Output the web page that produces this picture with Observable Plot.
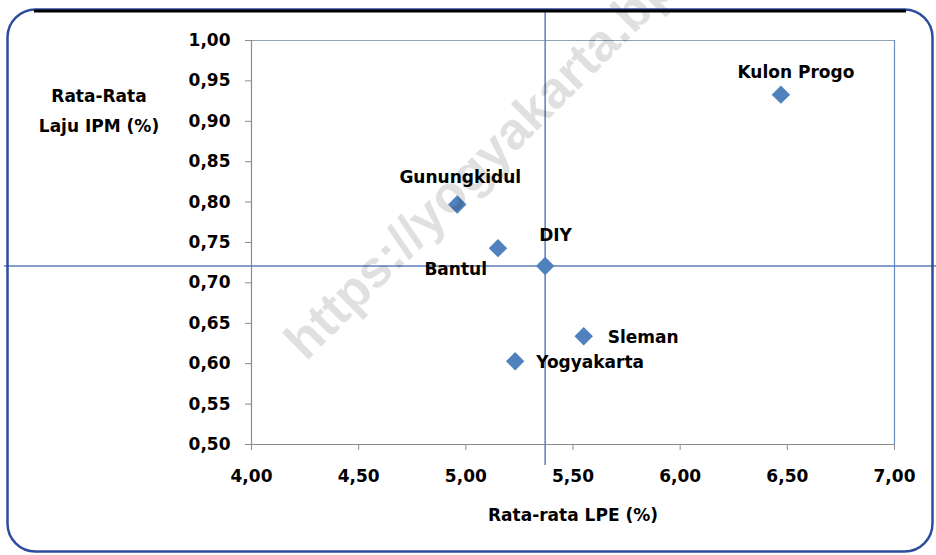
<!DOCTYPE html>
<html>
<head>
<meta charset="utf-8">
<script src="https://cdn.jsdelivr.net/npm/d3@7"></script>
<script src="https://cdn.jsdelivr.net/npm/@observablehq/plot@0.6"></script>
<style>
  html, body { margin: 0; padding: 0; background: #fff; }
  #chart { width: 936px; height: 555px; }
</style>
</head>
<body>
<div id="chart"></div>
<script>
// ---- data ----
const regions = ["Kulon Progo", "Gunungkidul", "Bantul", "DIY", "Sleman", "Yogyakarta"];
const lpe     = [6.47, 4.96, 5.15, 5.37, 5.55, 5.23];      // Rata-rata LPE (%)
const ipm     = [0.933, 0.797, 0.743, 0.721, 0.634, 0.603]; // Rata-rata Laju IPM (%)
const xTicks  = [4.00, 4.50, 5.00, 5.50, 6.00, 6.50, 7.00];
const yTicks  = [0.50, 0.55, 0.60, 0.65, 0.70, 0.75, 0.80, 0.85, 0.90, 0.95, 1.00];
const xTitle  = "Rata-rata LPE (%)";
const yTitle  = ["Rata-Rata", "Laju IPM (%)"];
const watermark = "https://yogyakarta.bps.go.id";
const reference = "DIY";

// label placement (style only)
const labelPlacement = {
  "Kulon Progo": {dx: 15,  dy: -22, anchor: "middle"},
  "Gunungkidul": {dx: 3,   dy: -27, anchor: "middle"},
  "Bantul":      {dx: -11, dy: 21,  anchor: "end"},
  "DIY":         {dx: -6,  dy: -30, anchor: "start"},
  "Sleman":      {dx: 24,  dy: 1,   anchor: "start"},
  "Yogyakarta":  {dx: 21,  dy: 1,   anchor: "start"}
};

const table = regions.map((r, i) => ({name: r, x: lpe[i], y: ipm[i]}));
const ref = table.filter(d => d.name === reference);
const fmt = d => d3.format(".2f")(d).replace(".", ",");

const W = 936, H = 555;
const mL = 251, mR = 42, mT = 40, mB = 111;
const blue = "#4f81bd";
const lineBlue = "#5a7fb8";
const axisGray = "#8c8c8c";
const font = "DejaVu Sans, Verdana, sans-serif";

const labelMarks = table.map(d => {
  const p = labelPlacement[d.name];
  return Plot.text([d], {x: "x", y: "y", text: "name", dx: p.dx, dy: p.dy,
    textAnchor: p.anchor, fill: "#000", fontSize: 17, fontWeight: "bold"});
});

const chart = Plot.plot({
  width: W, height: H,
  marginLeft: mL, marginRight: mR, marginTop: mT, marginBottom: mB,
  style: {fontFamily: font, fontSize: "17px", fontWeight: "bold", color: "#000", background: "transparent"},
  x: {domain: [4, 7]},
  y: {domain: [0.5, 1]},
  marks: [
    // frame: top & right
    Plot.ruleY([1], {stroke: "#8fa3b8", strokeWidth: 1.2}),
    Plot.ruleX([7], {stroke: "#6a8ac4", strokeWidth: 1.2}),
    // axes
    Plot.axisY({ticks: yTicks, tickFormat: fmt, tickSize: 6, tickPadding: 15,
      stroke: axisGray, fill: "#000", fontSize: 17, label: null}),
    Plot.axisX({ticks: xTicks, tickFormat: fmt, tickSize: 6, tickPadding: 19,
      stroke: axisGray, fill: "#000", fontSize: 17, label: null}),
    Plot.ruleX([4], {stroke: axisGray, strokeWidth: 1.2}),
    Plot.ruleY([0.5], {stroke: axisGray, strokeWidth: 1.2}),
    // crosshair through reference (DIY)
    Plot.ruleX(ref, {x: "x", stroke: lineBlue, strokeWidth: 1.5, insetTop: -30, insetBottom: -21}),
    Plot.ruleY(ref, {y: "y", stroke: lineBlue, strokeWidth: 1.5, insetLeft: -(mL - 4), insetRight: -mR}),
    // points
    Plot.dot(table, {x: "x", y: "y", symbol: "diamond2", r: 8.3, fill: blue, stroke: "none"}),
    ...labelMarks
  ]
});

const svg = d3.select(chart);
svg.style("overflow", "visible");

// axis titles
svg.append("text").text(xTitle)
  .attr("x", 573).attr("y", 516)
  .attr("text-anchor", "middle").attr("dominant-baseline", "middle")
  .attr("font-family", font).attr("font-weight", "bold").attr("font-size", 17).attr("fill", "#000");
yTitle.forEach((t, i) => {
  svg.append("text").text(t)
    .attr("x", 99).attr("y", 97 + i * 30)
    .attr("text-anchor", "middle").attr("dominant-baseline", "middle")
    .attr("font-family", font).attr("font-weight", "bold").attr("font-size", 17).attr("fill", "#000");
});

// watermark
svg.append("text").text(watermark)
  .attr("transform", "translate(306,362) rotate(-45)")
  .attr("text-anchor", "start")
  .attr("font-family", "Liberation Sans, Arial, sans-serif").attr("font-weight", "bold")
  .attr("font-size", 52).attr("fill", "#000").attr("fill-opacity", 0.12);

// rounded border
svg.append("rect")
  .attr("x", 7.5).attr("y", 9.5).attr("width", 925).attr("height", 542)
  .attr("rx", 28).attr("ry", 28)
  .attr("fill", "none").attr("stroke", "#2d4c9e").attr("stroke-width", 2.5);
svg.append("line")
  .attr("x1", 34).attr("x2", 906).attr("y1", 11).attr("y2", 11)
  .attr("stroke", "#000").attr("stroke-width", 3);

document.getElementById("chart").appendChild(chart);
</script>
</body>
</html>
